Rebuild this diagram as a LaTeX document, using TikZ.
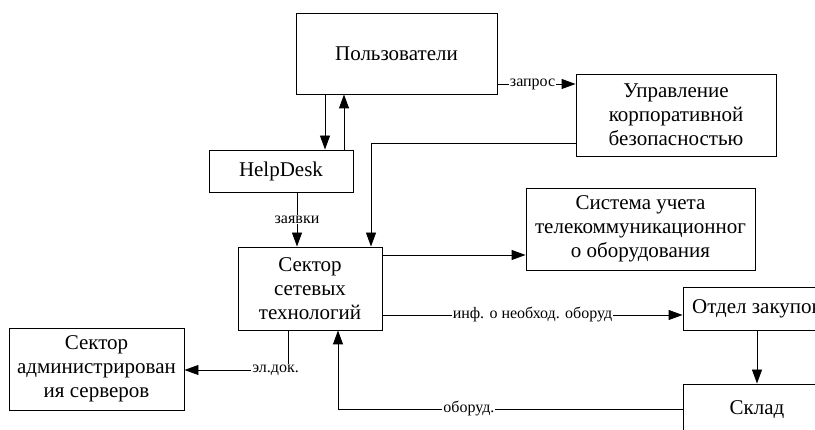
\documentclass[tikz,border=0pt]{standalone}
\usepackage{fontspec}
\setmainfont{Liberation Serif}
\usetikzlibrary{arrows.meta}

\begin{document}
\begin{tikzpicture}[x=1pt, y=-1pt,
  box/.style={draw, line width=.9pt, align=center, inner sep=0pt, font=\fontsize{21}{24}\selectfont},
  flow/.style={draw, line width=.9pt, -{Triangle[length=14pt, width=10pt]}},
  lbl/.style={fill=white, inner sep=1pt, font=\fontsize{16}{18}\selectfont}]
  \useasboundingbox (0,0) rectangle (815,430);
  \clip (0,0) rectangle (815,430);
  \node [box, minimum width=201pt, minimum height=81pt] (users) at (396.5, 53.5) {Пользователи};
  \node [box, minimum width=200pt, minimum height=82pt] (security) at (676, 115) {Управление\\корпоративной\\безопасностью};
  \node [box, minimum width=144pt, minimum height=42pt] (helpdesk) at (281, 171) {HelpDesk};
  \node [box, minimum width=144pt, minimum height=83pt] (network) at (310, 288.5) {Сектор\\сетевых\\технологий};
  \node [box, minimum width=175pt, minimum height=82pt] (servers) at (96.5, 369) {Сектор\\администрирован\\ия серверов};
  \node [box, minimum width=229pt, minimum height=82pt] (account) at (640.5, 229) {Система учета\\телекоммуникационног\\о оборудования};
  \node [box, minimum width=148pt, minimum height=43pt] (purchase) at (757, 308.5) {Отдел закупок};
  \node [box, minimum width=148pt, minimum height=52pt] (store) at (757, 410) {Склад};
  \coordinate (x1) at (325, 0);
  \coordinate (x2) at (344, 0);
  \coordinate (x3) at (297, 0);
  \coordinate (x4) at (371, 0);
  \coordinate (x5) at (288, 0);
  \coordinate (x6) at (338, 0);
  \coordinate (y1) at (0, 84);
  \coordinate (y2) at (0, 143);
  \coordinate (y3) at (0, 255);
  \coordinate (y4) at (0, 315);
  \coordinate (y5) at (0, 370);
  \coordinate (y6) at (0, 409);
  \draw [flow] (users.south -| x1) -- (helpdesk.north -| x1);
  \draw [flow] (helpdesk.north -| x2) -- (users.south -| x2);
  \draw [flow] (users.east |- y1) -- node [lbl, pos=.45] {запрос} (security.west |- y1);
  \draw [flow] (security.west |- y2) -| (network.north -| x4);
  \draw [flow] (helpdesk.south -| x3) -- node [lbl] {заявки} (network.north -| x3);
  \draw [flow] (network.east |- y3) -- (account.west |- y3);
  \draw [flow] (network.east |- y4) -- node [lbl] {инф. о необход. оборуд} (purchase.west |- y4);
  \draw [flow] (network.south -| x5) -- (x5 |- y5) -- node [lbl, pos=.12] {эл.док.} (servers.east |- y5);
  \draw [flow] (purchase.south) -- (store.north);
  \draw [flow] (store.west |- y6) -- node [lbl, pos=.62] {оборуд.} (x6 |- y6) -- (network.south -| x6);
\end{tikzpicture}
\end{document}
